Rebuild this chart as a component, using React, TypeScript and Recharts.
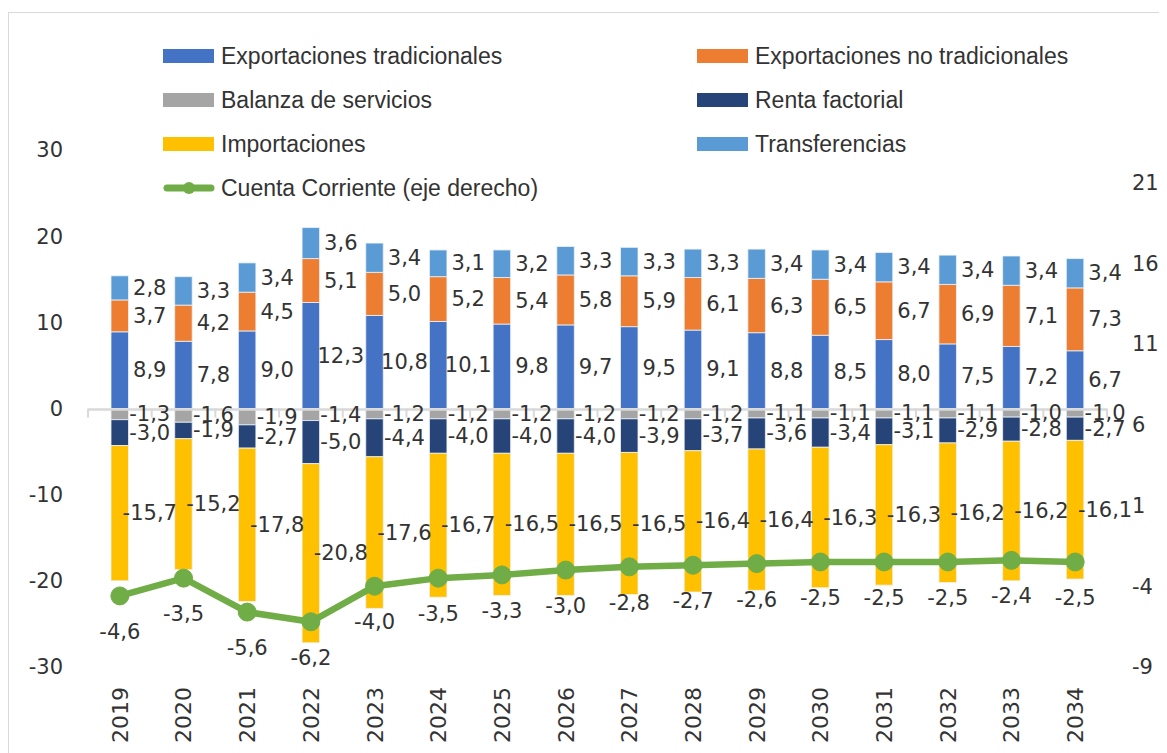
import React from "react";
import {
  ComposedChart,
  Bar,
  Line,
  XAxis,
  YAxis,
  LabelList,
  ReferenceLine,
} from "recharts";

const YEARS = [
  "2019", "2020", "2021", "2022", "2023", "2024", "2025", "2026",
  "2027", "2028", "2029", "2030", "2031", "2032", "2033", "2034",
];
const EXP_TRADICIONALES = [8.9, 7.8, 9.0, 12.3, 10.8, 10.1, 9.8, 9.7, 9.5, 9.1, 8.8, 8.5, 8.0, 7.5, 7.2, 6.7];
const EXP_NO_TRADICIONALES = [3.7, 4.2, 4.5, 5.1, 5.0, 5.2, 5.4, 5.8, 5.9, 6.1, 6.3, 6.5, 6.7, 6.9, 7.1, 7.3];
const BALANZA_SERVICIOS = [-1.3, -1.6, -1.9, -1.4, -1.2, -1.2, -1.2, -1.2, -1.2, -1.2, -1.1, -1.1, -1.1, -1.1, -1.0, -1.0];
const RENTA_FACTORIAL = [-3.0, -1.9, -2.7, -5.0, -4.4, -4.0, -4.0, -4.0, -3.9, -3.7, -3.6, -3.4, -3.1, -2.9, -2.8, -2.7];
const IMPORTACIONES = [-15.7, -15.2, -17.8, -20.8, -17.6, -16.7, -16.5, -16.5, -16.5, -16.4, -16.4, -16.3, -16.3, -16.2, -16.2, -16.1];
const TRANSFERENCIAS = [2.8, 3.3, 3.4, 3.6, 3.4, 3.1, 3.2, 3.3, 3.3, 3.3, 3.4, 3.4, 3.4, 3.4, 3.4, 3.4];
const CUENTA_CORRIENTE = [-4.6, -3.5, -5.6, -6.2, -4.0, -3.5, -3.3, -3.0, -2.8, -2.7, -2.6, -2.5, -2.5, -2.5, -2.4, -2.5];

const LEFT_TICKS = [-30, -20, -10, 0, 10, 20, 30];
const RIGHT_TICKS = [-9, -4, 1, 6, 11, 16, 21];

const data = YEARS.map((year, i) => ({
  year,
  trad: EXP_TRADICIONALES[i],
  noTrad: EXP_NO_TRADICIONALES[i],
  serv: BALANZA_SERVICIOS[i],
  renta: RENTA_FACTORIAL[i],
  imp: IMPORTACIONES[i],
  transf: TRANSFERENCIAS[i],
  cc: CUENTA_CORRIENTE[i],
}));

const TEXT = "#333333";
const NUM_FONT = "'DejaVu Sans', sans-serif";
const LEG_FONT = "'Liberation Sans', Arial, sans-serif";

const fmt = (v: number) => v.toFixed(1).replace(".", ",");

const BarLabel = (props: any) => {
  const { x, y, width, height, value } = props;
  return (
    <text
      x={x + width / 2 + 30}
      y={y + height / 2}
      textAnchor="middle"
      dominantBaseline="central"
      fill={TEXT}
      fontSize={21}
      fontFamily={NUM_FONT}
    >
      {fmt(value)}
    </text>
  );
};

const LineLabel = (props: any) => {
  const { x, y, value } = props;
  return (
    <text
      x={x}
      y={y + 36}
      textAnchor="middle"
      dominantBaseline="central"
      fill={TEXT}
      fontSize={21}
      fontFamily={NUM_FONT}
    >
      {fmt(value)}
    </text>
  );
};

const YearTick = (props: any) => {
  const { x, y, payload } = props;
  return (
    <text
      transform={`translate(${x},${y + 20}) rotate(-90)`}
      textAnchor="end"
      dy="0.36em"
      fill={TEXT}
      fontSize={22}
      fontFamily={NUM_FONT}
    >
      {payload.value}
    </text>
  );
};

const ZeroAxis = (props: any) => {
  const { x1, x2, y1 } = props;
  const n = YEARS.length;
  const step = (x2 - x1) / n;
  return (
    <g>
      <line x1={x1} x2={x2} y1={y1 + 1} y2={y1 + 1} stroke="#D9D9D9" strokeWidth={2.5} />
      {Array.from({ length: n + 1 }, (_, i) => (
        <line key={i} x1={x1 + i * step} x2={x1 + i * step} y1={y1} y2={y1 + 9} stroke="#D9D9D9" strokeWidth={2} />
      ))}
    </g>
  );
};

const LEGEND = [
  { name: "Exportaciones tradicionales", color: "#4472C4", col: 0, row: 0 },
  { name: "Exportaciones no tradicionales", color: "#ED7D31", col: 1, row: 0 },
  { name: "Balanza de servicios", color: "#A5A5A5", col: 0, row: 1 },
  { name: "Renta factorial", color: "#264478", col: 1, row: 1 },
  { name: "Importaciones", color: "#FFC000", col: 0, row: 2 },
  { name: "Transferencias", color: "#5B9BD5", col: 1, row: 2 },
];

function ChartLegend() {
  const colX = [155, 689];
  const rowY = [48, 92, 136, 180];
  return (
    <>
      {LEGEND.map((it) => (
        <div
          key={it.name}
          style={{
            position: "absolute",
            left: colX[it.col],
            top: rowY[it.row] - 14,
            height: 28,
            display: "flex",
            alignItems: "center",
            fontFamily: LEG_FONT,
            fontSize: 23,
            color: TEXT,
            whiteSpace: "nowrap",
          }}
        >
          <span style={{ display: "inline-block", width: 51, height: 14, background: it.color, marginRight: 7 }} />
          {it.name}
        </div>
      ))}
      <div
        style={{
          position: "absolute",
          left: colX[0],
          top: rowY[3] - 14,
          height: 28,
          display: "flex",
          alignItems: "center",
          fontFamily: LEG_FONT,
          fontSize: 23,
          color: TEXT,
          whiteSpace: "nowrap",
        }}
      >
        <svg width={52} height={16} style={{ marginRight: 6 }}>
          <line x1={4} x2={48} y1={8} y2={8} stroke="#70AD47" strokeWidth={7} strokeLinecap="round" />
          <circle cx={26} cy={8} r={6} fill="#70AD47" />
        </svg>
        Cuenta Corriente (eje derecho)
      </div>
    </>
  );
}

export default function App() {
  return (
    <div style={{ position: "relative", width: 1159, height: 745 }}>
      <div
        style={{
          position: "absolute",
          left: 0,
          top: 4,
          width: 1159,
          height: 741,
          borderTop: "1px solid #D9D9D9",
          borderLeft: "1px solid #D9D9D9",
          boxSizing: "border-box",
        }}
      />
      <div style={{ position: "absolute", left: 0, top: 4 }}>
        <ComposedChart
          width={1159}
          height={741}
          data={data}
          stackOffset="sign"
          margin={{ top: 138, right: 0, bottom: 0, left: 0 }}
        >
          <XAxis
            dataKey="year"
            xAxisId={0}
            axisLine={false}
            tickLine={false}
            tickSize={0}
            tickMargin={0}
            interval={0}
            height={86}
            tick={<YearTick />}
          />
          <YAxis
            yAxisId="left"
            domain={[-30, 30]}
            ticks={LEFT_TICKS}
            axisLine={false}
            tickLine={false}
            tickSize={0}
            tickMargin={25}
            width={80}
            tick={{ fill: TEXT, fontSize: 21, fontFamily: NUM_FONT }}
          />
          <YAxis
            yAxisId="right"
            orientation="right"
            domain={[-9, 23]}
            ticks={RIGHT_TICKS}
            axisLine={false}
            tickLine={false}
            tickSize={0}
            tickMargin={25}
            width={60}
            tick={{ fill: TEXT, fontSize: 21, fontFamily: NUM_FONT, textAnchor: "start" }}
          />
          <ReferenceLine yAxisId="left" y={0} shape={<ZeroAxis />} />
          <Bar yAxisId="left" dataKey="trad" name="Exportaciones tradicionales" stackId="s" fill="#4472C4" stroke="#EEF2F8" strokeWidth={0.8} barSize={17.5} isAnimationActive={false}>
            <LabelList dataKey="trad" content={<BarLabel />} />
          </Bar>
          <Bar yAxisId="left" dataKey="noTrad" name="Exportaciones no tradicionales" stackId="s" fill="#ED7D31" stroke="#EEF2F8" strokeWidth={0.8} barSize={17.5} isAnimationActive={false}>
            <LabelList dataKey="noTrad" content={<BarLabel />} />
          </Bar>
          <Bar yAxisId="left" dataKey="serv" name="Balanza de servicios" stackId="s" fill="#A5A5A5" stroke="#EEF2F8" strokeWidth={0.8} barSize={17.5} isAnimationActive={false}>
            <LabelList dataKey="serv" content={<BarLabel />} />
          </Bar>
          <Bar yAxisId="left" dataKey="renta" name="Renta factorial" stackId="s" fill="#264478" stroke="#EEF2F8" strokeWidth={0.8} barSize={17.5} isAnimationActive={false}>
            <LabelList dataKey="renta" content={<BarLabel />} />
          </Bar>
          <Bar yAxisId="left" dataKey="imp" name="Importaciones" stackId="s" fill="#FFC000" stroke="#EEF2F8" strokeWidth={0.8} barSize={17.5} isAnimationActive={false}>
            <LabelList dataKey="imp" content={<BarLabel />} />
          </Bar>
          <Bar yAxisId="left" dataKey="transf" name="Transferencias" stackId="s" fill="#5B9BD5" stroke="#EEF2F8" strokeWidth={0.8} barSize={17.5} isAnimationActive={false}>
            <LabelList dataKey="transf" content={<BarLabel />} />
          </Bar>
          <Line
            yAxisId="right"
            dataKey="cc"
            name="Cuenta Corriente (eje derecho)"
            type="linear"
            stroke="#70AD47"
            strokeWidth={6.5}
            dot={{ r: 9, fill: "#70AD47", stroke: "#70AD47", strokeWidth: 1 }}
            isAnimationActive={false}
          >
            <LabelList dataKey="cc" content={<LineLabel />} />
          </Line>
        </ComposedChart>
      </div>
      <ChartLegend />
    </div>
  );
}
